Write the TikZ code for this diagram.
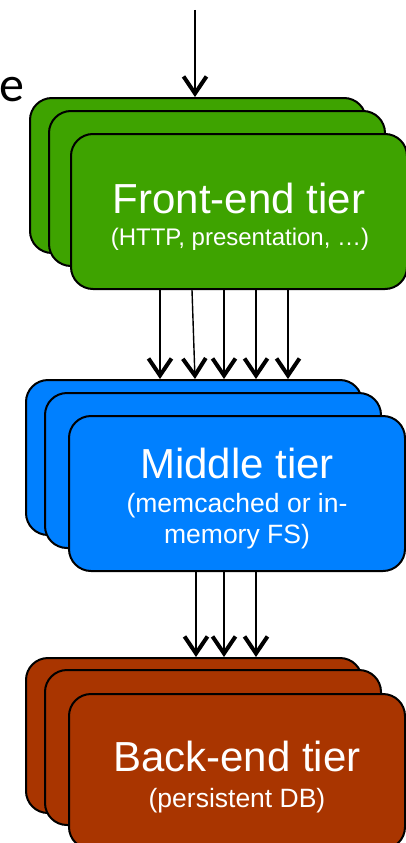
\documentclass[tikz,border=0pt]{standalone}
\usepackage{fontspec}
\setmainfont{Liberation Sans}
\newfontfamily\cutfont{Carlito}
\usetikzlibrary{arrows.meta}
\definecolor{tiergreen}{HTML}{3EA300}
\definecolor{tierblue}{HTML}{0080FF}
\definecolor{tierbrown}{HTML}{A93500}
\begin{document}
\begin{tikzpicture}[x=1pt,y=-1pt,
  tierbox/.style={draw=black, line width=2pt, rounded corners=22pt,
    minimum width=336pt, minimum height=155pt, inner sep=0pt,
    anchor=north west, fill=#1},
  flow/.style={line width=1.4pt,
    -{Straight Barb[length=17pt,width=23pt,line width=4pt]}},
  tiertitle/.style={text=white, font=\fontsize{42}{48}\selectfont,
    anchor=base, inner sep=0pt},
  tiersub/.style={text=white, font=\fontsize{#1}{33}\selectfont,
    anchor=base, inner sep=0pt}]
\useasboundingbox (0,0) rectangle (406,843);
\clip (0,0) rectangle (406,843);

% truncated word at the top left
\node[anchor=base east, inner sep=0pt, font=\cutfont\fontsize{50}{60}\selectfont] (cut) at (25,101) {e};

% front-end stack
\node[tierbox=tiergreen] (g1) at (29,97) {};
\node[tierbox=tiergreen] (g2) at (48,110) {};
\node[tierbox=tiergreen] (g3) at (70,133) {};
\node[tiertitle] (gt) at (239,213) {Front-end tier};
\node[tiersub=24] (gs) at (240,245) {(HTTP, presentation, …)};

% middle stack
\node[tierbox=tierblue] (m1) at (25,379) {};
\node[tierbox=tierblue] (m2) at (44,392) {};
\node[tierbox=tierblue] (m3) at (68,415) {};
\node[tiertitle] (mt) at (237,478) {Middle tier};
\node[tiersub=26.5] (ms1) at (237,512) {(memcached or in-};
\node[tiersub=26.5] (ms2) at (237,543) {memory FS)};

% back-end stack
\node[tierbox=tierbrown] (b1) at (25,657) {};
\node[tierbox=tierbrown] (b2) at (44,669) {};
\node[tierbox=tierbrown] (b3) at (68,693) {};
\node[tiertitle] (bt) at (237,771) {Back-end tier};
\node[tiersub=26.5] (bs) at (237,807) {(persistent DB)};

% x positions of the connectors
\coordinate (src) at (195,10);
\coordinate (xa) at (160,0);
\coordinate (xb0) at (192,0);
\coordinate (xb) at (195,0);
\coordinate (xc) at (224,0);
\coordinate (xd) at (256,0);
\coordinate (xe) at (288,0);
\coordinate (xf) at (196,0);

% incoming request
\draw[flow] (src) -- (g1.north -| src);

% front-end to middle
\draw[flow] (g3.south -| xa) -- (m1.north -| xa);
\draw[flow] (g3.south -| xb0) -- (m1.north -| xb);
\draw[flow] (g3.south -| xc) -- (m1.north -| xc);
\draw[flow] (g3.south -| xd) -- (m1.north -| xd);
\draw[flow] (g3.south -| xe) -- (m1.north -| xe);

% middle to back-end
\draw[flow] (m3.south -| xf) -- (b1.north -| xf);
\draw[flow] (m3.south -| xc) -- (b1.north -| xc);
\draw[flow] (m3.south -| xd) -- (b1.north -| xd);
\end{tikzpicture}
\end{document}
